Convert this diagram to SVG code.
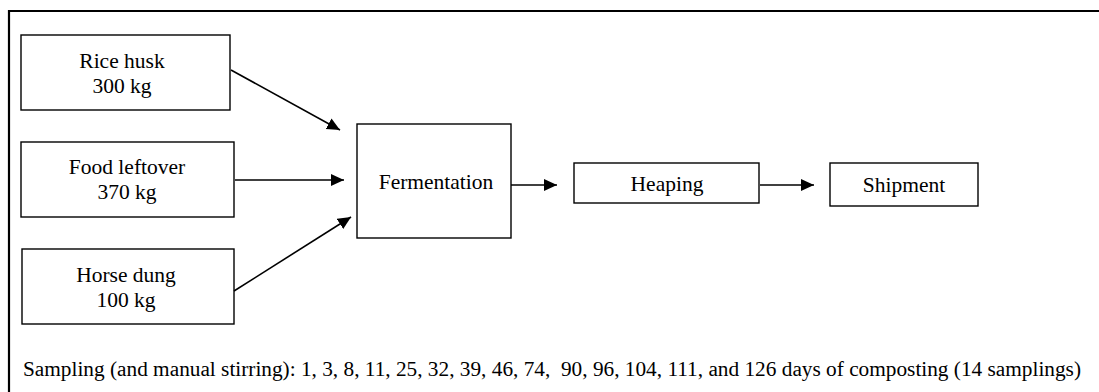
<svg xmlns="http://www.w3.org/2000/svg" width="1099" height="392" viewBox="0 0 1099 392">
<style>
.box{fill:#fff;stroke:#000;stroke-width:1.4}
.t{font-family:"Liberation Serif","Times New Roman",serif;font-size:21.5px;fill:#000;text-anchor:middle}
.c{stroke:#000;stroke-width:1.6;fill:none}
</style>
<defs>
<marker id="ah" markerUnits="userSpaceOnUse" markerWidth="14" markerHeight="13" refX="13" refY="6" orient="auto">
<path d="M0,0 L13,6 L0,12 Z" fill="#000"/>
</marker>
</defs>
<rect width="1099" height="392" fill="#fff"/>
<path d="M9,392 V11 H1099" fill="none" stroke="#000" stroke-width="2.2"/>
<g id="rice"><rect class="box" x="21" y="35" width="209" height="75"/><text class="t" x="122" y="68">Rice husk</text><text class="t" x="122" y="93">300 kg</text></g>
<g id="food"><rect class="box" x="21" y="142" width="213" height="75"/><text class="t" x="127" y="174">Food leftover</text><text class="t" x="127" y="199">370 kg</text></g>
<g id="horse"><rect class="box" x="22" y="249" width="212" height="75"/><text class="t" x="126" y="282">Horse dung</text><text class="t" x="126" y="307">100 kg</text></g>
<g id="ferm"><rect class="box" x="357" y="124" width="154" height="114"/><text class="t" x="436" y="189">Fermentation</text></g>
<g id="heap"><rect class="box" x="574" y="163" width="185" height="40"/><text class="t" x="667" y="191">Heaping</text></g>
<g id="ship"><rect class="box" x="830" y="163" width="148" height="43"/><text class="t" x="904" y="192">Shipment</text></g>
<g id="connectors">
<line class="c" x1="231" y1="70" x2="340" y2="130" marker-end="url(#ah)"/>
<line class="c" x1="235" y1="180" x2="344" y2="180" marker-end="url(#ah)"/>
<line class="c" x1="234" y1="291" x2="351" y2="217" marker-end="url(#ah)"/>
<line class="c" x1="511" y1="185" x2="557" y2="185" marker-end="url(#ah)"/>
<line class="c" x1="760" y1="185" x2="814" y2="185" marker-end="url(#ah)"/>
</g>
<text id="note" x="23" y="376" textLength="1058" style="font-family:'Liberation Serif','Times New Roman',serif;font-size:21.3px;fill:#000" xml:space="preserve">Sampling (and manual stirring): 1, 3, 8, 11, 25, 32, 39, 46, 74,  90, 96, 104, 111, and 126 days of composting (14 samplings)</text>
</svg>
